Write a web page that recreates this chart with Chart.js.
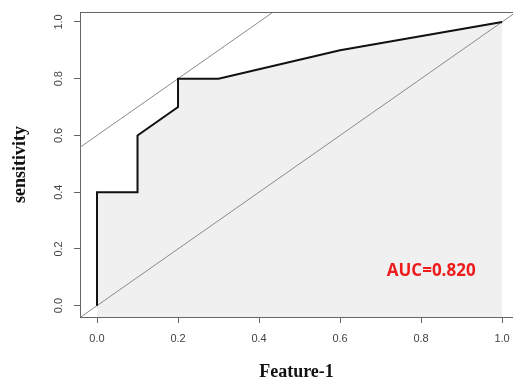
<!DOCTYPE html>
<html lang="en">
<head>
    <meta charset="UTF-8">
    <title>ROC Feature-1</title>
    <script src="https://cdn.jsdelivr.net/npm/chart.js"></script>
    <style>
        body { margin: 0; background: #fff; }
        #wrap { width: 513px; height: 381px; position: relative; }
    </style>
</head>
<body>
    <div id="wrap"><canvas id="rocChart"></canvas></div>

    <script>
        // ROC curve
        const rocX = [0.0, 0.0, 0.1, 0.1, 0.2, 0.2, 0.3, 0.6, 1.0];
        const rocY = [0.0, 0.4, 0.4, 0.6, 0.7, 0.8, 0.8, 0.9, 1.0];
        // reference lines y = x + b (chance line and tangent at best cut-off)
        const refIntercepts = [0.0, 0.6];
        const tickValues = [0.0, 0.2, 0.4, 0.6, 0.8, 1.0];
        const aucText = 'AUC=0.820';
        const aucPos = [0.825, 0.12];

        const axisColor = '#666';
        const labelColor = '#444';

        function refLine(b) {
            return [{ x: -0.2, y: -0.2 + b }, { x: 1.2, y: 1.2 + b }];
        }

        const extrasPlugin = {
            id: 'extras',
            afterDraw(chart) {
                const ctx = chart.ctx;
                const a = chart.chartArea;
                const xs = chart.scales.x, ys = chart.scales.y;
                ctx.save();
                // top edge of the box
                ctx.strokeStyle = axisColor;
                ctx.lineWidth = 1;
                ctx.beginPath();
                ctx.moveTo(a.left, a.top + 0.5);
                ctx.lineTo(a.right, a.top + 0.5);
                ctx.stroke();
                // rotated y tick labels
                ctx.fillStyle = labelColor;
                ctx.font = '11px "Liberation Sans", Arial, sans-serif';
                ctx.textAlign = 'center';
                ctx.textBaseline = 'middle';
                tickValues.forEach(v => {
                    ctx.save();
                    ctx.translate(59, ys.getPixelForValue(v));
                    ctx.rotate(-Math.PI / 2);
                    ctx.fillText(v.toFixed(1), 0, 0);
                    ctx.restore();
                });
                // AUC annotation
                ctx.fillStyle = '#ee1c1c';
                ctx.font = 'bold 17px "Open Sans", "Liberation Sans", sans-serif';
                ctx.fillText(aucText, xs.getPixelForValue(aucPos[0]), ys.getPixelForValue(aucPos[1]));
                ctx.restore();
            }
        };

        const ctx = document.getElementById('rocChart').getContext('2d');
        new Chart(ctx, {
            type: 'line',
            data: {
                datasets: [
                    {
                        data: rocX.map((x, i) => ({ x: x, y: rocY[i] })),
                        borderColor: '#111',
                        borderWidth: 2,
                        backgroundColor: '#f0f0f0',
                        fill: 'start',
                        pointRadius: 0,
                        tension: 0
                    },
                    ...refIntercepts.map(b => ({
                        data: refLine(b),
                        borderColor: '#8a8a8a',
                        borderWidth: 1,
                        fill: false,
                        pointRadius: 0
                    }))
                ]
            },
            options: {
                responsive: true,
                maintainAspectRatio: false,
                animation: false,
                layout: { padding: { top: 12, right: 0, left: 0, bottom: 0 } },
                plugins: {
                    legend: { display: false },
                    tooltip: { enabled: false },
                    filler: { drawTime: 'beforeDatasetsDraw' }
                },
                scales: {
                    x: {
                        type: 'linear',
                        min: -0.042,
                        max: 1.027,
                        afterBuildTicks: s => { s.ticks = tickValues.map(v => ({ value: v })); },
                        afterFit: s => { s.height = 64; s.paddingLeft = 0; s.paddingRight = 0; },
                        border: { display: true, color: axisColor },
                        grid: { drawOnChartArea: false, tickLength: 6, color: axisColor },
                        ticks: {
                            padding: 9,
                            color: labelColor,
                            font: { family: '"Liberation Sans", Arial, sans-serif', size: 11 },
                            callback: v => v.toFixed(1)
                        },
                        title: {
                            display: true,
                            text: 'Feature-1',
                            color: '#111',
                            font: { family: '"Liberation Serif", "Times New Roman", serif', size: 18, weight: 'bold', lineHeight: 1 },
                            padding: { top: 0, bottom: 0 }
                        }
                    },
                    y: {
                        type: 'linear',
                        min: -0.04,
                        max: 1.035,
                        afterBuildTicks: s => { s.ticks = tickValues.map(v => ({ value: v })); },
                        afterFit: s => { s.width = 80; s.paddingTop = 0; s.paddingBottom = 0; },
                        border: { display: true, color: axisColor },
                        grid: { drawOnChartArea: false, tickLength: 6, color: axisColor },
                        ticks: { display: false },
                        title: {
                            display: true,
                            text: 'sensitivity',
                            color: '#111',
                            font: { family: '"Liberation Serif", "Times New Roman", serif', size: 18, weight: 'bold' },
                            padding: { top: 10, bottom: 0 }
                        }
                    }
                }
            },
            plugins: [extrasPlugin]
        });
    </script>
</body>
</html>
